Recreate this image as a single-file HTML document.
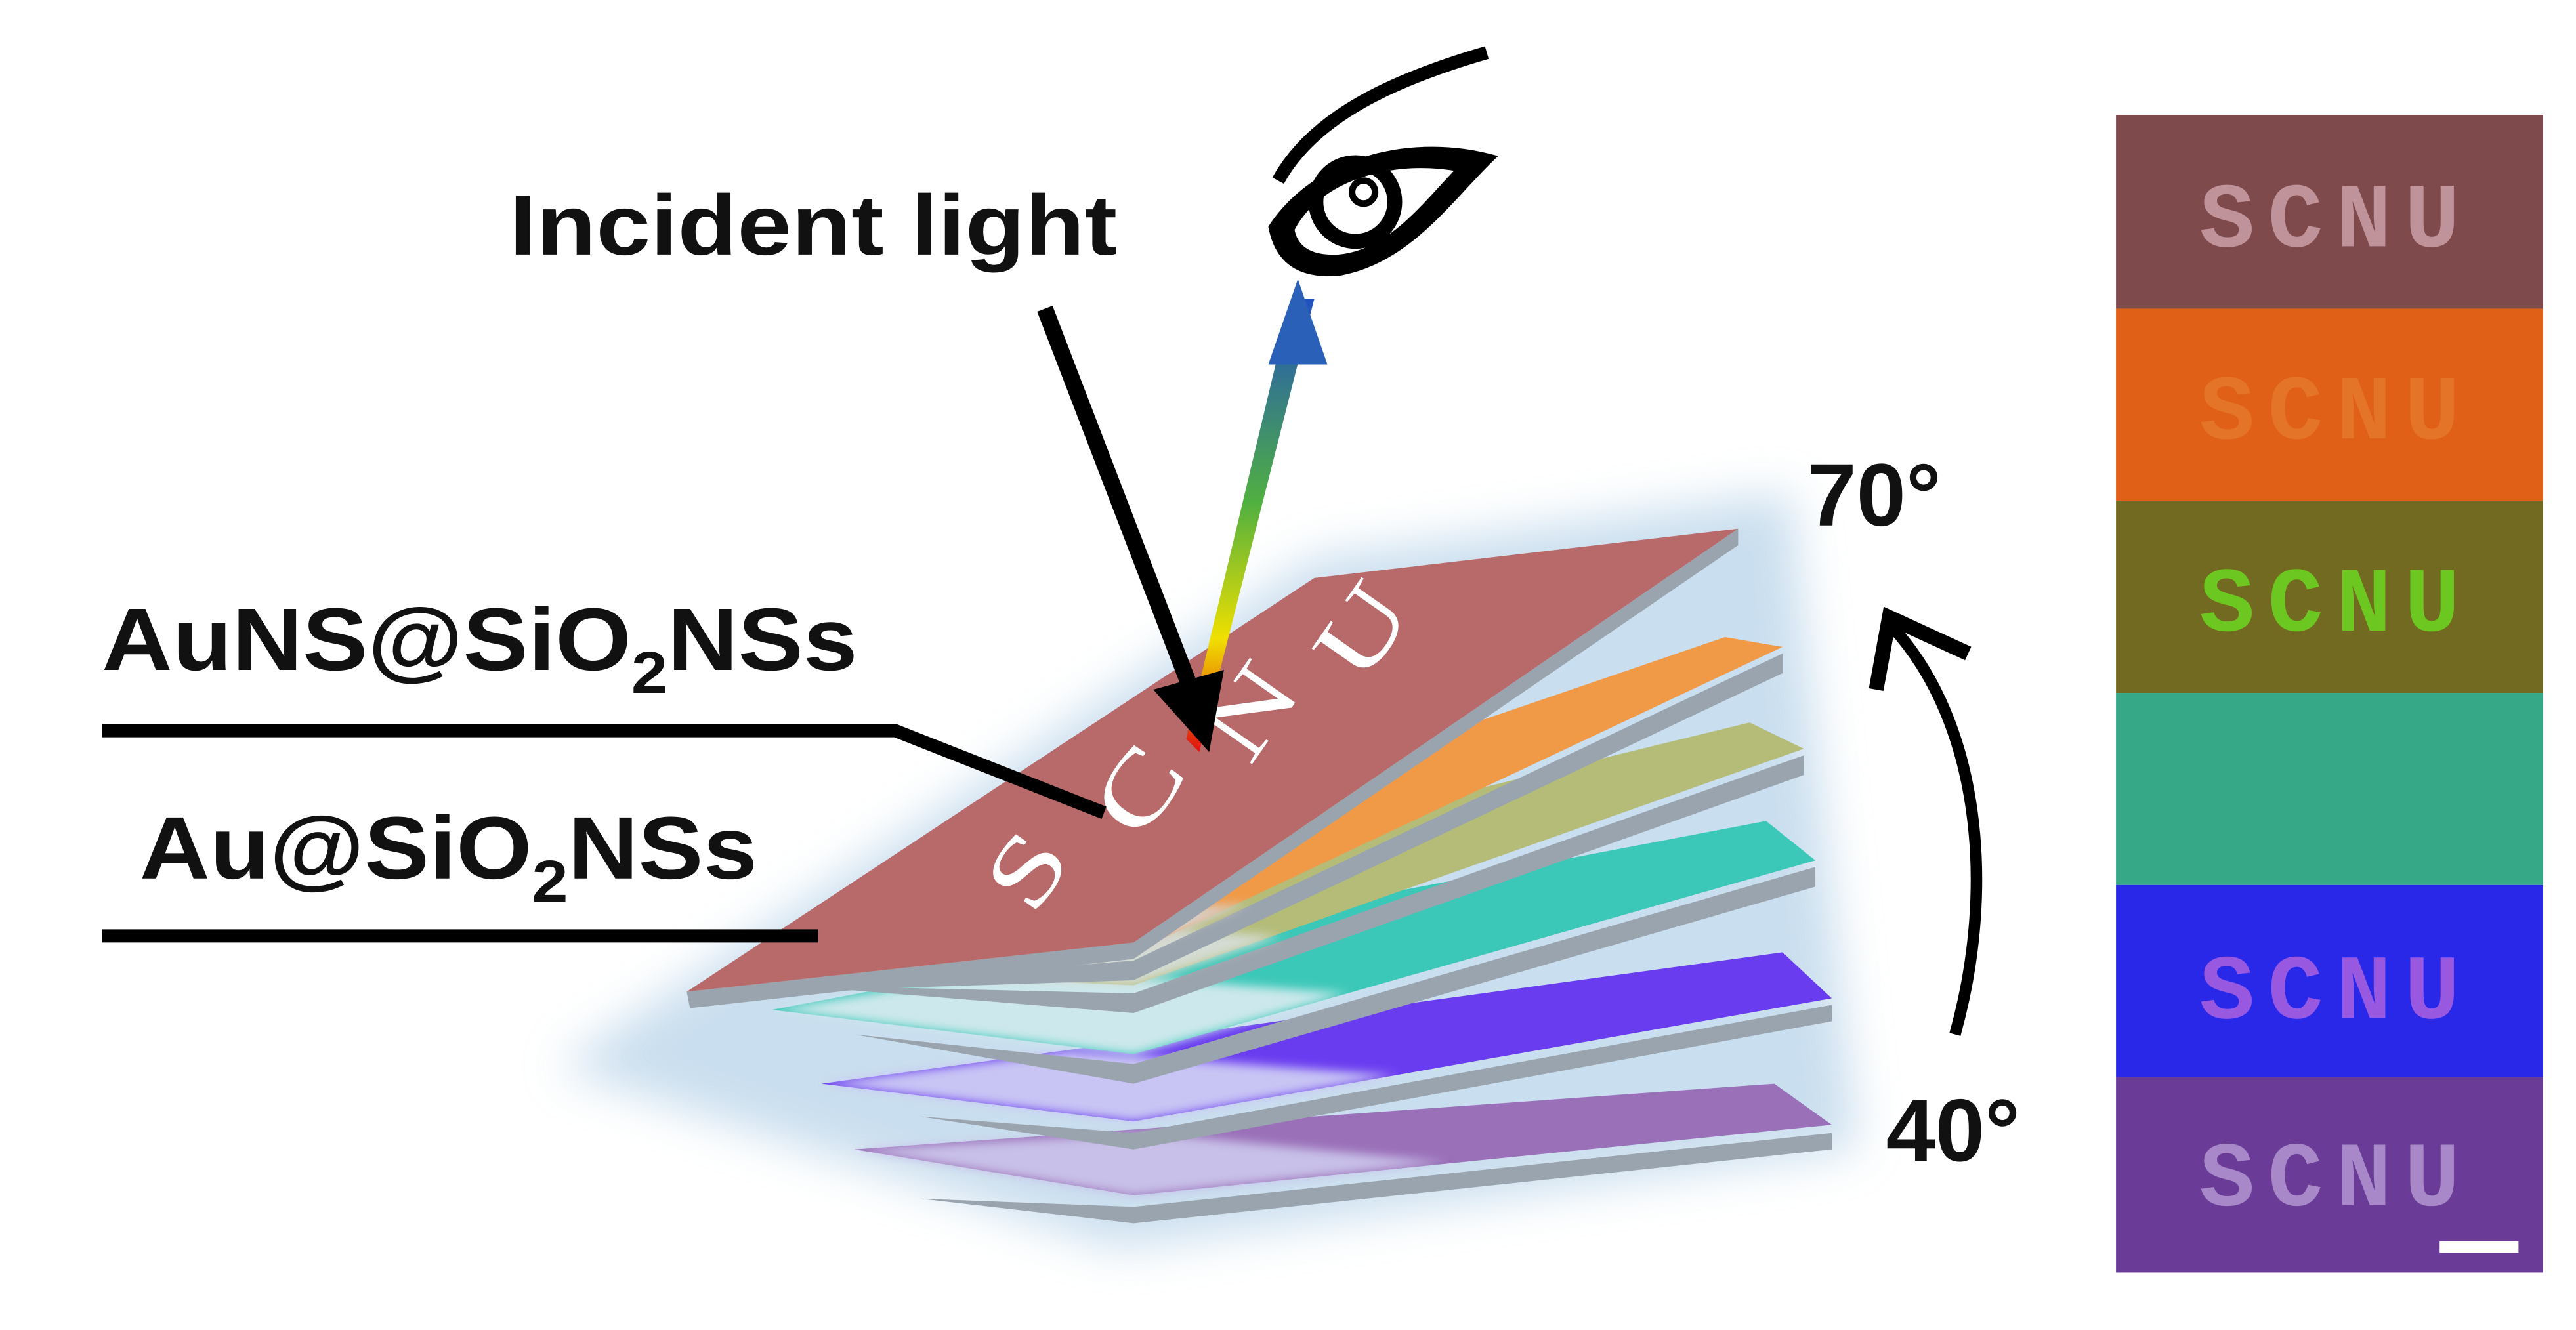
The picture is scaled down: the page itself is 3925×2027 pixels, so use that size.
<!DOCTYPE html>
<html><head><meta charset="utf-8"><style>
html,body{margin:0;padding:0;background:#fff;width:3925px;height:2027px;overflow:hidden}
svg{display:block}
</style></head><body>
<svg width="3925" height="2027" viewBox="0 0 1568 810" preserveAspectRatio="none" xmlns="http://www.w3.org/2000/svg">
<defs>
<linearGradient id="rb" x1="0" y1="1" x2="0" y2="0">
<stop offset="0" stop-color="#e01010"/><stop offset="0.25" stop-color="#f0e000"/><stop offset="0.55" stop-color="#50b040"/><stop offset="1" stop-color="#2050c0"/>
</linearGradient>
<filter id="bl" x="-20%" y="-20%" width="140%" height="140%"><feGaussianBlur stdDeviation="14"/></filter>
<filter id="bl2"><feGaussianBlur stdDeviation="3"/></filter>
</defs>
<polygon points="340,650 800,340 1090,300 1130,700 680,760" fill="#bcd6ea" filter="url(#bl)" opacity="0.8"/>
<g>
<polygon points="560,730 690,735 1115,690 1115,700 690,745" fill="#9aa4ae"/>
<polygon points="520,700 690,728 1115,685 1080,660" fill="#9a70b8"/>
<polygon points="520,700 690,728 880,708 700,690" fill="#c8c0e8" filter="url(#bl2)"/>
<polygon points="560,680 690,690 1115,612 1115,622 690,700" fill="#9aa4ae"/>
<polygon points="500,660 690,683 1115,608 1085,580" fill="#6a3cf0"/>
<polygon points="500,660 690,683 850,655 650,640" fill="#c8c4f4" filter="url(#bl2)"/>
<polygon points="520,630 690,648 1105,528 1105,540 690,660" fill="#9aa4ae"/>
<polygon points="470,615 690,642 1105,524 1075,500" fill="#3cc8b8"/>
<polygon points="470,615 690,642 820,605 620,590" fill="#cce8ec" filter="url(#bl2)"/>
<polygon points="480,600 690,605 1098,460 1098,472 690,617" fill="#9aa4ae"/>
<polygon points="450,590 690,600 1098,456 1065,440" fill="#b4bc78"/>
<polygon points="450,590 690,600 780,570 600,560" fill="#d4dcd4" filter="url(#bl2)"/>
<polygon points="440,605 690,585 1085,398 1085,410 690,597" fill="#9aa4ae"/>
<polygon points="430,600 690,580 1085,394 1050,388" fill="#f09a48"/>
<polygon points="430,600 690,580 760,550 560,565" fill="#d8cfc8" filter="url(#bl2)"/>
<polygon points="418,604 690,574 1058,322 1058,332 690,584 420,614" fill="#9aa4ae"/>
<polygon points="418,604 800,352 1058,322 690,574" fill="#b86a6a"/>
<g font-family="Liberation Serif,serif" font-size="78" fill="#fff" text-anchor="middle" dominant-baseline="central">
<text transform="translate(625,530) rotate(-55) scale(1,0.75)">S</text>
<text transform="translate(693,481) rotate(-55) scale(1,0.75)">C</text>
<text transform="translate(761,433) rotate(-55) scale(1,0.75)">N</text>
<text transform="translate(829,384) rotate(-55) scale(1,0.75)">U</text>
</g>
</g>
<polygon points="730,458 800,182 786,182 722,450" fill="url(#rb)"/>
<polygon points="790,170 772,222 808,222" fill="#2a60b8"/>
<line x1="636" y1="188" x2="725" y2="420" stroke="#000" stroke-width="10"/>
<polygon points="736,458 702,420 745,408" fill="#000"/>
<path d="M778,110 C800,70 850,48 905,32" fill="none" stroke="#000" stroke-width="8"/>
<path d="M772,138 C800,95 860,80 912,95 C885,120 860,160 815,168 C790,170 776,160 772,138 Z" fill="#000"/>
<path d="M788,140 C805,108 850,98 885,104 C865,125 845,152 815,155 C798,156 790,150 788,140 Z" fill="#fff"/>
<circle cx="825" cy="123" r="24" fill="none" stroke="#000" stroke-width="9"/>
<circle cx="830" cy="117" r="7" fill="none" stroke="#000" stroke-width="4"/>
<g font-family="Liberation Sans,sans-serif" font-weight="bold" fill="#111">
<text x="310" y="155" font-size="52" textLength="370" lengthAdjust="spacingAndGlyphs">Incident light</text>
<text x="62" y="408" font-size="54" textLength="460" lengthAdjust="spacingAndGlyphs">AuNS@SiO<tspan font-size="36" dy="14">2</tspan><tspan dy="-14">NSs</tspan></text>
<text x="85" y="535" font-size="54" textLength="376" lengthAdjust="spacingAndGlyphs">Au@SiO<tspan font-size="36" dy="14">2</tspan><tspan dy="-14">NSs</tspan></text>
<text x="1100" y="320" font-size="54">70°</text>
<text x="1148" y="707" font-size="54">40°</text>
</g>
<polyline points="62,445 545,445 672,495" fill="none" stroke="#000" stroke-width="8"/>
<line x1="62" y1="570" x2="498" y2="570" stroke="#000" stroke-width="8"/>
<path d="M1190,630 C1215,540 1205,440 1152,382" fill="none" stroke="#000" stroke-width="7"/>
<polyline points="1142,420 1150,376 1198,398" fill="none" stroke="#000" stroke-width="9"/>
<g font-family="Liberation Mono,monospace" font-weight="bold" font-size="56" text-anchor="middle" letter-spacing="8">
<rect x="1288" y="70" width="260" height="118" fill="#7f4a4c"/>
<text x="1422" y="150" fill="#c0929a">SCNU</text>
<rect x="1288" y="188" width="260" height="117" fill="#e06018"/>
<text x="1422" y="267" fill="#e88838" opacity="0.5">SCNU</text>
<rect x="1288" y="305" width="260" height="117" fill="#736a22"/>
<text x="1422" y="384" fill="#6cc820">SCNU</text>
<rect x="1288" y="422" width="260" height="117" fill="#36a888"/>
<rect x="1288" y="539" width="260" height="117" fill="#2a28e8"/>
<text x="1422" y="620" fill="#9858e0">SCNU</text>
<rect x="1288" y="656" width="260" height="119" fill="#6a3c98"/>
<text x="1422" y="734" fill="#a888c8">SCNU</text>
</g>
<rect x="1485" y="756" width="48" height="7" fill="#fff"/>
</svg>
</body></html>
